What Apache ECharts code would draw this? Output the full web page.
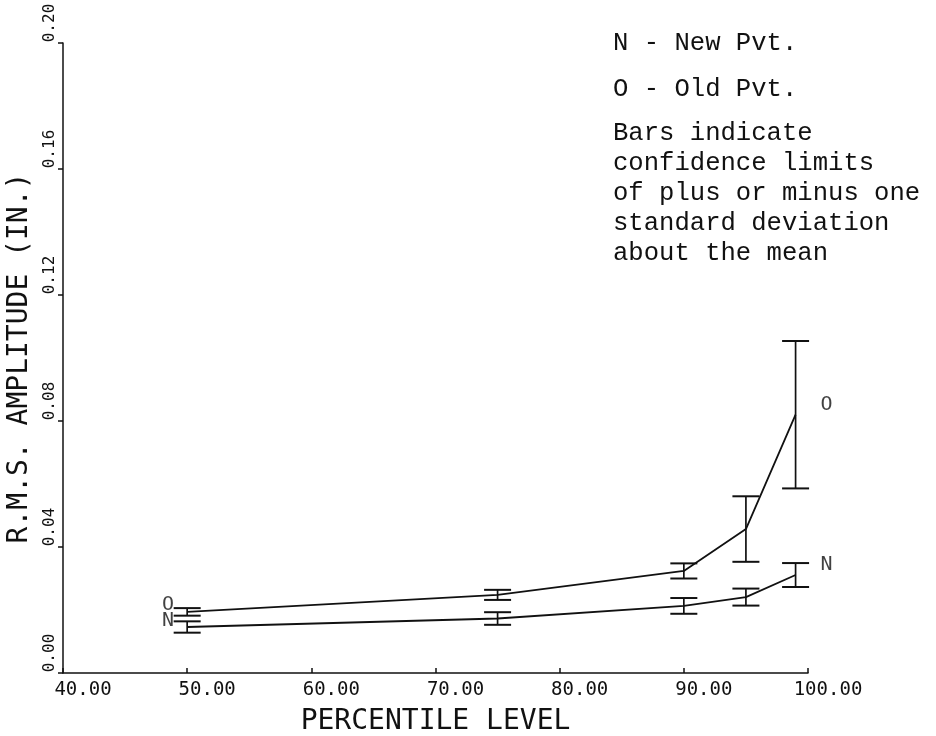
<!DOCTYPE html>
<html>
<head>
<meta charset="utf-8">
<script src="https://cdn.jsdelivr.net/npm/echarts@6/dist/echarts.min.js"></script>
<style>
  html, body { margin: 0; padding: 0; background: #ffffff; }
  #chart { width: 936px; height: 736px; }
</style>
</head>
<body>
<div id="chart"></div>
<script>
// Percentile levels at which the RMS amplitude was evaluated
const percentiles = [50, 75, 90, 95, 99];

// Old pavement: mean RMS amplitude (in.) and one standard deviation
const oldMean = [0.0194, 0.0248, 0.0324, 0.0457, 0.0820];
const oldSd   = [0.0012, 0.0016, 0.0024, 0.0104, 0.0234];

// New pavement: mean RMS amplitude (in.) and one standard deviation
const newMean = [0.0146, 0.0173, 0.0213, 0.0241, 0.0311];
const newSd   = [0.0018, 0.0020, 0.0025, 0.0027, 0.0038];

// Curve identifiers placed at both ends of each curve: [tag, percentile, amplitude]
const curveTags = [
  ['O', 48.45, 0.0216],
  ['N', 48.45, 0.0165],
  ['O', 101.5, 0.0850],
  ['N', 101.5, 0.0343]
];

// Axis scales
const xMin = 40, xMax = 100, xStep = 10;
const yMin = 0, yMax = 0.20, yStep = 0.04;

// Key text block
const keyLines = [
  'N - New Pvt.',
  'O - Old Pvt.'
];
const noteLines = [
  'Bars indicate',
  'confidence limits',
  'of plus or minus one',
  'standard deviation',
  'about the mean'
];

const INK = '#111111';
const plotFont = '"DejaVu Sans Mono", monospace';
const typeFont = '"Liberation Mono", "DejaVu Sans Mono", monospace';

function pairs(xs, ys) { return xs.map((x, i) => [x, ys[i]]); }
function bars(xs, m, s) { return xs.map((x, i) => [x, m[i] - s[i], m[i] + s[i]]); }

function renderBar(params, api) {
  const x = api.value(0);
  const lo = api.coord([x, api.value(1)]);
  const hi = api.coord([x, api.value(2)]);
  const hw = 13.5;
  const st = { stroke: INK, lineWidth: 1.7 };
  return {
    type: 'group',
    children: [
      { type: 'line', shape: { x1: lo[0], y1: lo[1], x2: hi[0], y2: hi[1] }, style: st },
      { type: 'line', shape: { x1: lo[0] - hw, y1: lo[1], x2: lo[0] + hw, y2: lo[1] }, style: { stroke: INK, lineWidth: 2 } },
      { type: 'line', shape: { x1: hi[0] - hw, y1: hi[1], x2: hi[0] + hw, y2: hi[1] }, style: { stroke: INK, lineWidth: 2 } }
    ]
  };
}

const graphics = [];
keyLines.forEach((t, i) => {
  graphics.push({
    type: 'text', left: 613, top: 30 + i * 46,
    style: { text: t, font: '25.6px ' + typeFont, fill: INK }
  });
});
noteLines.forEach((t, i) => {
  graphics.push({
    type: 'text', left: 613, top: 120 + i * 30,
    style: { text: t, font: '25.6px ' + typeFont, fill: INK }
  });
});

const chart = echarts.init(document.getElementById('chart'), null, { renderer: 'canvas' });
chart.setOption({
  animation: false,
  backgroundColor: '#ffffff',
  grid: { left: 63, right: 128, top: 43, bottom: 63, containLabel: false, outerBoundsMode: 'none' },
  xAxis: {
    type: 'value', min: xMin, max: xMax, interval: xStep,
    name: 'PERCENTILE LEVEL', nameLocation: 'middle', nameGap: 35,
    nameTextStyle: { fontFamily: plotFont, fontSize: 28, color: INK },
    axisLine: { show: true, onZero: false, lineStyle: { color: INK, width: 1.5 } },
    axisTick: { show: true, inside: true, length: 5, lineStyle: { color: INK, width: 1.5 } },
    axisLabel: {
      showMinLabel: true, showMaxLabel: true, hideOverlap: false,
      fontFamily: plotFont, fontSize: 19, color: INK, margin: 8,
      align: 'center', padding: [0, 0, 0, 40],
      formatter: v => v.toFixed(2)
    },
    splitLine: { show: false }
  },
  yAxis: {
    type: 'value', min: yMin, max: yMax, interval: yStep,
    name: 'R.M.S. AMPLITUDE (IN.)', nameLocation: 'middle', nameGap: 29,
    nameTextStyle: { fontFamily: plotFont, fontSize: 28, color: INK },
    axisLine: { show: true, onZero: false, lineStyle: { color: INK, width: 1.5 } },
    axisTick: { show: true, inside: false, length: 5, lineStyle: { color: INK, width: 1.5 } },
    axisLabel: {
      showMinLabel: true, showMaxLabel: true, hideOverlap: false,
      rotate: 90, fontFamily: plotFont, fontSize: 16, color: INK, margin: 5,
      align: 'center', padding: [0, 0, 0, 40],
      formatter: v => v.toFixed(2)
    },
    splitLine: { show: false }
  },
  series: [
    {
      name: 'Old Pvt.', type: 'line', data: pairs(percentiles, oldMean),
      symbol: 'none', lineStyle: { color: INK, width: 1.8 }, silent: true
    },
    {
      name: 'New Pvt.', type: 'line', data: pairs(percentiles, newMean),
      symbol: 'none', lineStyle: { color: INK, width: 1.8 }, silent: true
    },
    {
      name: 'Old Pvt. bars', type: 'custom', data: bars(percentiles, oldMean, oldSd),
      renderItem: renderBar, encode: { x: 0, y: [1, 2] }, silent: true
    },
    {
      name: 'New Pvt. bars', type: 'custom', data: bars(percentiles, newMean, newSd),
      renderItem: renderBar, encode: { x: 0, y: [1, 2] }, silent: true
    },
    {
      name: 'tags', type: 'scatter', clip: false, symbolSize: 0, silent: true,
      data: curveTags.map(t => ({ name: t[0], value: [t[1], t[2]] })),
      label: {
        show: true, position: 'inside', formatter: p => p.name,
        fontFamily: plotFont, fontSize: 20, color: INK
      }
    }
  ],
  graphic: graphics
});
</script>
</body>
</html>
